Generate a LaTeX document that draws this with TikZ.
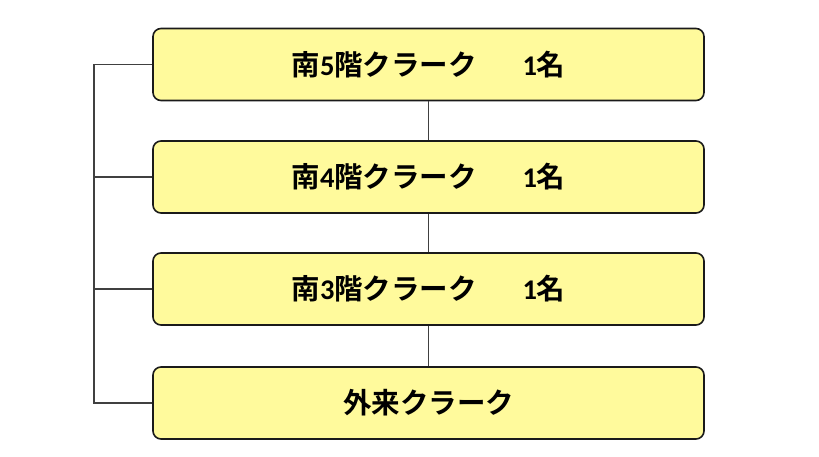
\documentclass[tikz,border=0pt]{standalone}
\usepackage{fontspec}
\newfontfamily\cjk{Noto Sans CJK JP}[BoldFont={Noto Sans CJK JP Bold}]
\newfontfamily\lat{Carlito}
\newcommand{\dg}[1]{{\lat\bfseries #1}}
\definecolor{boxfill}{HTML}{FFFA9C}
\definecolor{boxline}{HTML}{1A1A1A}
\definecolor{conline}{HTML}{404040}
\begin{document}
\begin{tikzpicture}[x=1pt,y=-1pt,
  rolebox/.style={draw=boxline, line width=1.6pt, fill=boxfill, rounded corners=8pt,
    minimum width=551pt, minimum height=72pt, inner sep=0pt,
    font=\cjk\bfseries\fontsize{28.5pt}{31pt}\selectfont},
  conn/.style={draw=conline, line width=1.1pt}]
\useasboundingbox (0,0) rectangle (819,457);
\node[rolebox] (b5) at (428.5,64.5) {南\dg{5}階クラーク\hspace{1.6em}\dg{1}名};
\node[rolebox] (b4) at (428.5,177) {南\dg{4}階クラーク\hspace{1.6em}\dg{1}名};
\node[rolebox] (b3) at (428.5,289) {南\dg{3}階クラーク\hspace{1.6em}\dg{1}名};
\node[rolebox] (ext) at (428.5,403) {外来クラーク};
\coordinate (l5) at (94,64.5);
\coordinate (l4) at (94,177);
\coordinate (l3) at (94,289);
\coordinate (le) at (94,403);
\draw[conn] (b5.west) -- (l5) -- (le) -- (ext.west);
\draw[conn] (l4) -- (b4.west);
\draw[conn] (l3) -- (b3.west);
\draw[conn] (b5.south) -- (b4.north);
\draw[conn] (b4.south) -- (b3.north);
\draw[conn] (b3.south) -- (ext.north);
\end{tikzpicture}
\end{document}
